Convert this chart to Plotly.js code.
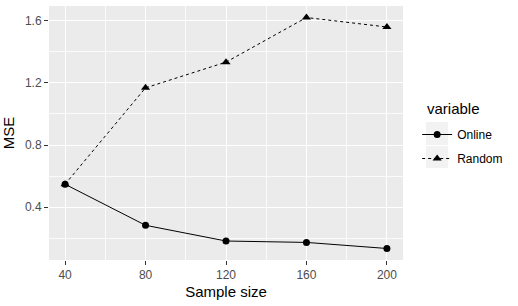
<!DOCTYPE html>
<html>
<head>
<script src="https://cdn.plot.ly/plotly-3.0.1.min.js"></script>
<style>html,body{margin:0;padding:0;background:#fff;}</style>
</head>
<body>
<div id="chart" style="width:518px;height:306px;"></div>
<script>
const sampleSize = [40, 80, 120, 160, 200];
const onlineMSE = [0.548, 0.284, 0.183, 0.174, 0.135];
const randomMSE = [0.548, 1.168, 1.333, 1.620, 1.559];
const seriesNames = ["Online", "Random"];
const legendTitle = "variable";
const xTicks = [40, 80, 120, 160, 200];
const yTicks = [0.4, 0.8, 1.2, 1.6];

const font = "Liberation Sans, Arial, sans-serif";
const traces = [
  {x: sampleSize, y: onlineMSE, name: seriesNames[0], legendgroup: "a", type: "scatter", mode: "lines+markers",
   line: {color: "#000", width: 1, dash: "solid"}, marker: {symbol: "circle", size: 7, color: "#000"}},
  {x: sampleSize, y: randomMSE, name: seriesNames[1], legendgroup: "b", type: "scatter", mode: "lines+markers",
   line: {color: "#000", width: 1, dash: "dot"}, marker: {symbol: "triangle-up", size: 8, color: "#000"}}
];
// plot area in px: left 49, right 403, top 6, bottom 260
const px = v => (v - 49) / 354;
const py = v => 1 - (v - 6) / 254;
const keyBox = (y0, y1) => ({type: "rect", xref: "paper", yref: "paper", layer: "below",
  x0: px(426), x1: px(448), y0: py(y1), y1: py(y0), fillcolor: "#F2F2F2", line: {width: 0}});
const layout = {
  width: 518, height: 306,
  margin: {l: 49, r: 115, t: 6, b: 46},
  paper_bgcolor: "#fff", plot_bgcolor: "#EBEBEB",
  font: {family: font, color: "#000"},
  showlegend: true,
  shapes: [keyBox(122, 145), keyBox(146, 168)],
  annotations: [{text: legendTitle, xref: "paper", yref: "paper", x: px(425), y: py(109),
    xanchor: "left", yanchor: "middle", showarrow: false,
    font: {family: font, size: 15, color: "#000"}}],
  xaxis: {
    range: [32, 208], tickvals: xTicks, ticktext: xTicks.map(String),
    showgrid: true, gridcolor: "#fff", gridwidth: 1, zeroline: false,
    ticks: "outside", ticklen: 4, tickcolor: "#333", tickwidth: 1,
    tickfont: {family: font, size: 12, color: "#4D4D4D"},
    minor: {dtick: 20, tick0: 0, showgrid: true, gridcolor: "#fff", gridwidth: 0.8, ticks: ""},
    title: {text: "Sample size", font: {family: font, size: 15, color: "#000"}, standoff: 5}
  },
  yaxis: {
    range: [0.061, 1.694], tickvals: yTicks, ticktext: yTicks.map(v => v.toFixed(1)),
    showgrid: true, gridcolor: "#fff", gridwidth: 1, zeroline: false,
    ticks: "outside", ticklen: 4, tickcolor: "#333", tickwidth: 1,
    tickfont: {family: font, size: 12, color: "#4D4D4D"},
    minor: {dtick: 0.2, tick0: 0, showgrid: true, gridcolor: "#fff", gridwidth: 0.8, ticks: ""},
    title: {text: "MSE", font: {family: font, size: 15, color: "#000"}, standoff: 6}
  },
  legend: {
    x: 1.04, xanchor: "left", y: py(120), yanchor: "top",
    bgcolor: "rgba(0,0,0,0)", itemwidth: 30,
    font: {family: font, size: 12, color: "#000"},
    tracegroupgap: 5
  }
};
Plotly.newPlot("chart", traces, layout, {displayModeBar: false, staticPlot: true});
</script>
</body>
</html>
